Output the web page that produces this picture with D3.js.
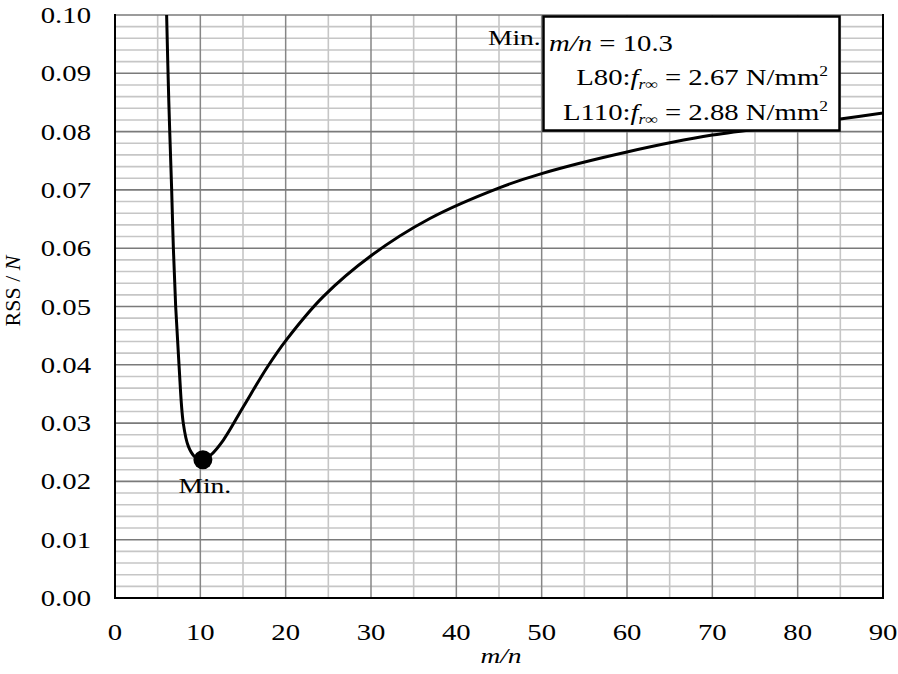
<!DOCTYPE html>
<html><head><meta charset="utf-8">
<script src="https://cdn.jsdelivr.net/npm/d3@7"></script>
<style>body{margin:0;background:#fff}svg{display:block}text{font-family:"Liberation Serif","Times New Roman",serif;fill:#000}</style>
</head><body>
<svg id="c" width="898" height="674"></svg>
<script>
const curveX = [6.05, 6.3, 6.64, 6.84, 7.11, 7.5, 8.0, 8.6, 9.3, 10.23, 11.2, 12.7, 15.04, 17.8, 20.04, 24.4, 30.08, 36.9, 45.1, 50, 60, 70, 80, 85.2, 90];
const curveY = [0.100, 0.0854, 0.070, 0.060, 0.050, 0.040, 0.030, 0.026, 0.0243, 0.02366, 0.0245, 0.0271, 0.0328, 0.0395, 0.0442, 0.0517, 0.0588, 0.0651, 0.0704, 0.0728, 0.0765, 0.0794, 0.0812, 0.0822, 0.0832];
const minPoint = {x: 10.3, y: 0.0237};
const xTicks = [0,10,20,30,40,50,60,70,80,90];
const yTicks = [0,0.01,0.02,0.03,0.04,0.05,0.06,0.07,0.08,0.09,0.10];

const SX = 1.25; // horizontal text stretch seen in the reference
const svg = d3.select("#c");
const L=115, R=883, T=15, B=598;
const x = d3.scaleLinear().domain([0,90]).range([L,R]);
const y = d3.scaleLinear().domain([0,0.10]).range([B,T]);

function stext(px, py, size, anchor){
  return svg.append("text").attr("transform",`translate(${px},${py}) scale(${SX},1)`)
    .attr("text-anchor",anchor||"start").style("font-size",size+"px");
}

const g = svg.append("g");
// minor grid
d3.range(5,90,10).forEach(v=>g.append("line").attr("x1",x(v)).attr("x2",x(v)).attr("y1",T).attr("y2",B).attr("stroke","#c6c6c6").attr("stroke-width",1.6));
d3.range(0,50).filter(i=>i%5!==0).map(i=>i*0.002).forEach(v=>g.append("line").attr("x1",L).attr("x2",R).attr("y1",y(v)).attr("y2",y(v)).attr("stroke","#c6c6c6").attr("stroke-width",1.6));
// major grid
xTicks.slice(1,-1).forEach(v=>g.append("line").attr("x1",x(v)).attr("x2",x(v)).attr("y1",T).attr("y2",B).attr("stroke","#868686").attr("stroke-width",1.5));
yTicks.slice(1).forEach(v=>g.append("line").attr("x1",L).attr("x2",R).attr("y1",y(v)).attr("y2",y(v)).attr("stroke","#7a7a7a").attr("stroke-width",1.6));
// frame
g.append("line").attr("x1",L).attr("x2",L).attr("y1",T-1).attr("y2",B+1).attr("stroke","#000").attr("stroke-width",2);
g.append("line").attr("x1",L-1).attr("x2",R+1).attr("y1",B).attr("y2",B).attr("stroke","#000").attr("stroke-width",2);
g.append("line").attr("x1",R).attr("x2",R).attr("y1",T-1).attr("y2",B+1).attr("stroke","#000").attr("stroke-width",2);

// tick labels from scales
const fmtY = d3.format(".2f");
xTicks.forEach(v=>stext(x(v), 640, 23, "middle").text(v));
yTicks.forEach(v=>stext(91, y(v)+8, 23, "end").text(fmtY(v)));

// clip
svg.append("clipPath").attr("id","clip").append("rect").attr("x",L).attr("y",T).attr("width",R-L).attr("height",B-T);
const data = curveX.map((v,i)=>[v,curveY[i]]);
svg.append("path").datum(data).attr("clip-path","url(#clip)")
  .attr("d",d3.line().x(d=>x(d[0])).y(d=>y(d[1])).curve(d3.curveCatmullRom.alpha(0.5)))
  .attr("fill","none").attr("stroke","#000").attr("stroke-width",3);
svg.append("circle").attr("cx",x(minPoint.x)).attr("cy",y(minPoint.y)).attr("r",9.5).attr("fill","#000");
stext(x(minPoint.x)+2, y(minPoint.y)+33, 22, "middle").text("Min.");

// axis titles
stext((L+R)/2+2, 663, 22, "middle").style("font-style","italic").text("m/n");
svg.append("text").attr("transform","translate(20,291) rotate(-90)").attr("text-anchor","middle").style("font-size","22px")
  .call(t=>{t.append("tspan").text("RSS / ");t.append("tspan").style("font-style","italic").text("N");});

// annotation box
svg.append("rect").attr("x",543.5).attr("y",16.5).attr("width",296).attr("height",114).attr("fill","#fff").attr("stroke","#000").attr("stroke-width",2.5);
stext(488, 45, 22).text("Min.");
const t1 = stext(549, 51, 23);
t1.append("tspan").style("font-style","italic").text("m/n");
t1.append("tspan").text(" = 10.3");
function fline(yy, lab, val){
  const t = stext(828, yy, 23, "end");
  t.append("tspan").text(lab+":");
  t.append("tspan").style("font-style","italic").text("f");
  t.append("tspan").style("font-style","italic").style("font-size","14px").attr("dy",4).text("r∞");
  t.append("tspan").attr("dy",-4).text(" = "+val+" N/mm");
  t.append("tspan").style("font-size","14px").attr("dy",-9).text("2");
}
fline(85,"L80","2.67");
fline(120,"L110","2.88");
</script>
</body></html>
